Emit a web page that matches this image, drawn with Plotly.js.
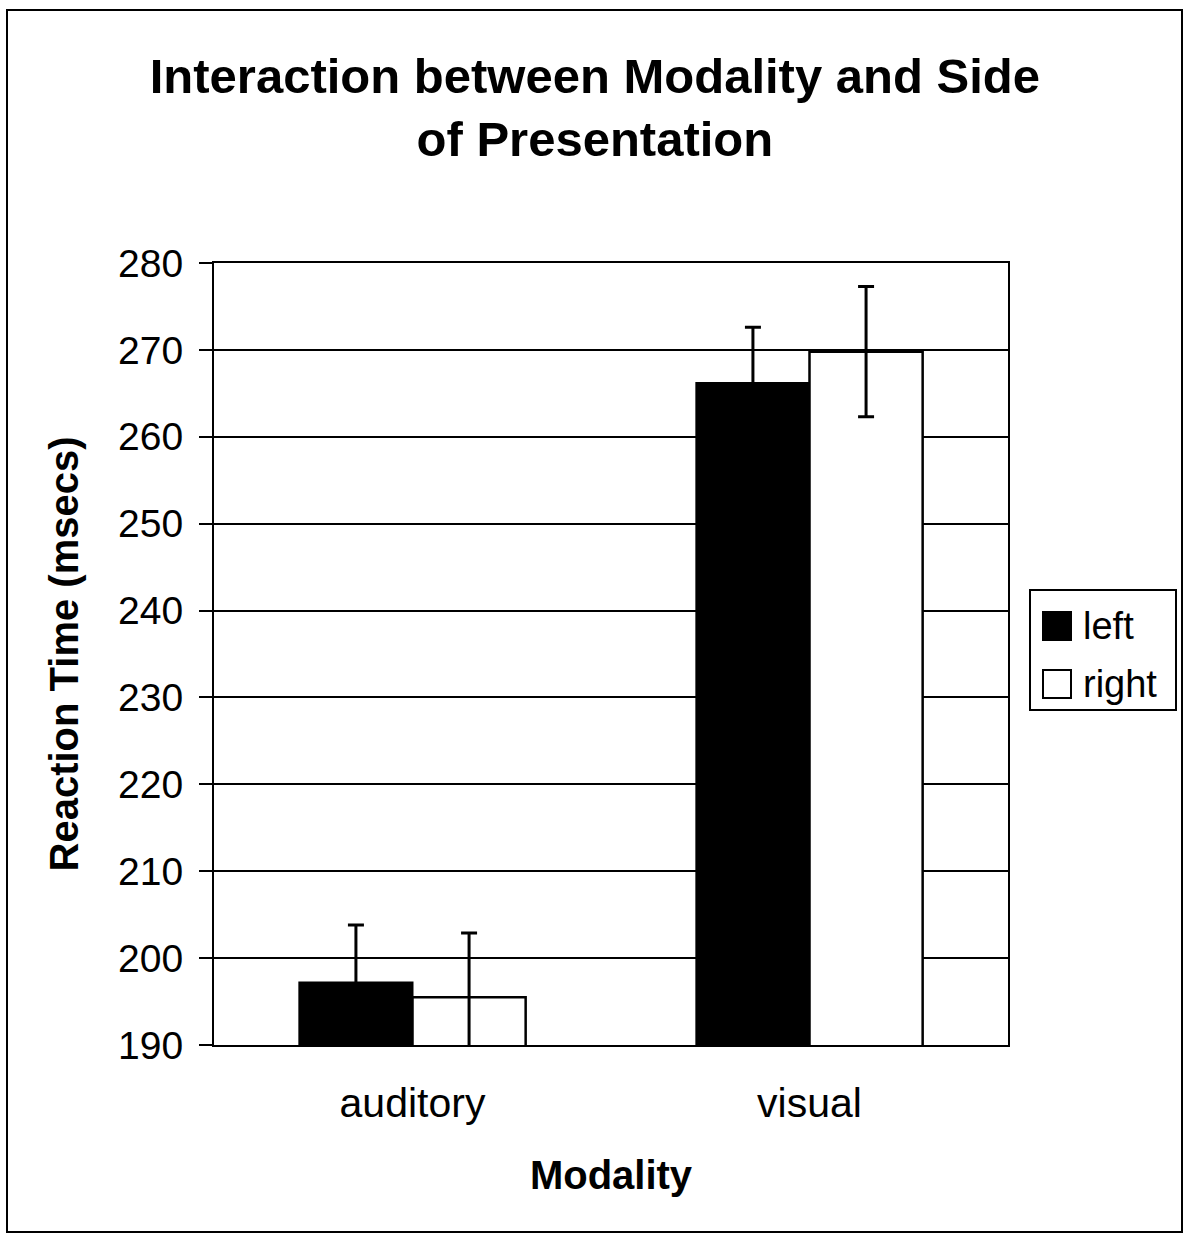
<!DOCTYPE html>
<html>
<head>
<meta charset="utf-8">
<script src="https://cdn.plot.ly/plotly-3.0.1.min.js"></script>
<style>
html,body{margin:0;padding:0;background:#fff;}
#chart{width:1185px;height:1234px;}
</style>
</head>
<body>
<div id="chart"></div>
<script>
const categories = ["auditory", "visual"];
const seriesNames = ["left", "right"];
const leftValues = [197.2, 266.2];
const leftErrors = [6.6, 6.4];
const rightValues = [195.5, 269.8];
const rightErrors = [7.4, 7.5];
const yTicks = [190, 200, 210, 220, 230, 240, 250, 260, 270, 280];

const FONT = "Liberation Sans, Arial, Helvetica, sans-serif";

// plot area in pixels
const M = {l: 214, r: 177, t: 263, b: 189};
const W = 1185, H = 1234;
const PW = W - M.l - M.r, PH = H - M.t - M.b;
const px = x => (x - M.l) / PW;
const py = y => (H - M.b - y) / PH;

const traces = [
  {
    type: "bar", name: seriesNames[0], x: categories, y: leftValues,
    marker: {color: "#000000", line: {color: "#000000", width: 2}},
    error_y: {type: "data", array: leftErrors, visible: true, color: "#000000", thickness: 3, width: 8}
  },
  {
    type: "bar", name: seriesNames[1], x: categories, y: rightValues,
    marker: {color: "#ffffff", line: {color: "#000000", width: 2.5}},
    error_y: {type: "data", array: rightErrors, visible: true, color: "#000000", thickness: 3, width: 8}
  }
];

const legendFills = ["#000000", "#ffffff"];
const legendShapes = [];
const legendAnnots = [];
// legend box
legendShapes.push({type: "rect", xref: "paper", yref: "paper",
  x0: px(1030), x1: px(1176), y0: py(710), y1: py(590),
  line: {color: "#000000", width: 2}, fillcolor: "#ffffff"});
seriesNames.forEach(function(name, i){
  const cy = 626 + i * 58;
  legendShapes.push({type: "rect", xref: "paper", yref: "paper",
    x0: px(1043), x1: px(1071), y0: py(cy + 14), y1: py(cy - 14),
    line: {color: "#000000", width: 2}, fillcolor: legendFills[i]});
  legendAnnots.push({xref: "paper", yref: "paper", x: px(1081), y: py(cy),
    xanchor: "left", yanchor: "middle", showarrow: false, text: name,
    font: {family: FONT, size: 38, color: "#000000"}});
});

const layout = {
  width: W, height: H,
  paper_bgcolor: "#ffffff", plot_bgcolor: "#ffffff",
  margin: M,
  barmode: "group", bargap: 0.43, bargroupgap: 0,
  font: {family: FONT, color: "#000000"},
  title: {
    text: "<b>Interaction between Modality and Side<br>of Presentation</b>",
    font: {family: FONT, size: 49, color: "#000000"},
    x: 0.502, xanchor: "center", y: 0.925, yanchor: "middle", yref: "container"
  },
  xaxis: {
    type: "category",
    showline: true, linecolor: "#000000", linewidth: 2, mirror: true,
    ticks: "",
    tickfont: {family: FONT, size: 41, color: "#000000"},
    ticklabelstandoff: 21,
    title: {text: "<b>Modality</b>", font: {family: FONT, size: 40, color: "#000000"}, standoff: 36},
    showgrid: false, zeroline: false
  },
  yaxis: {
    range: [190, 280], tickvals: yTicks, ticktext: yTicks.map(String),
    showline: true, linecolor: "#000000", linewidth: 2, mirror: true,
    ticks: "outside", ticklen: 13, tickcolor: "#000000", tickwidth: 2,
    tickfont: {family: FONT, size: 39, color: "#000000"},
    ticklabelstandoff: 8,
    showgrid: true, gridcolor: "#000000", gridwidth: 2,
    zeroline: false,
    title: {text: "<b>Reaction Time (msecs)</b>", font: {family: FONT, size: 40, color: "#000000"}, standoff: 27}
  },
  showlegend: false,
  shapes: [
    {type: "rect", xref: "paper", yref: "paper",
     x0: px(7), x1: px(1182), y0: py(1232), y1: py(10),
     line: {color: "#000000", width: 2}, fillcolor: "rgba(0,0,0,0)", layer: "below"}
  ].concat(legendShapes),
  annotations: legendAnnots
};

Plotly.newPlot("chart", traces, layout, {displayModeBar: false, staticPlot: true});
</script>
</body>
</html>
